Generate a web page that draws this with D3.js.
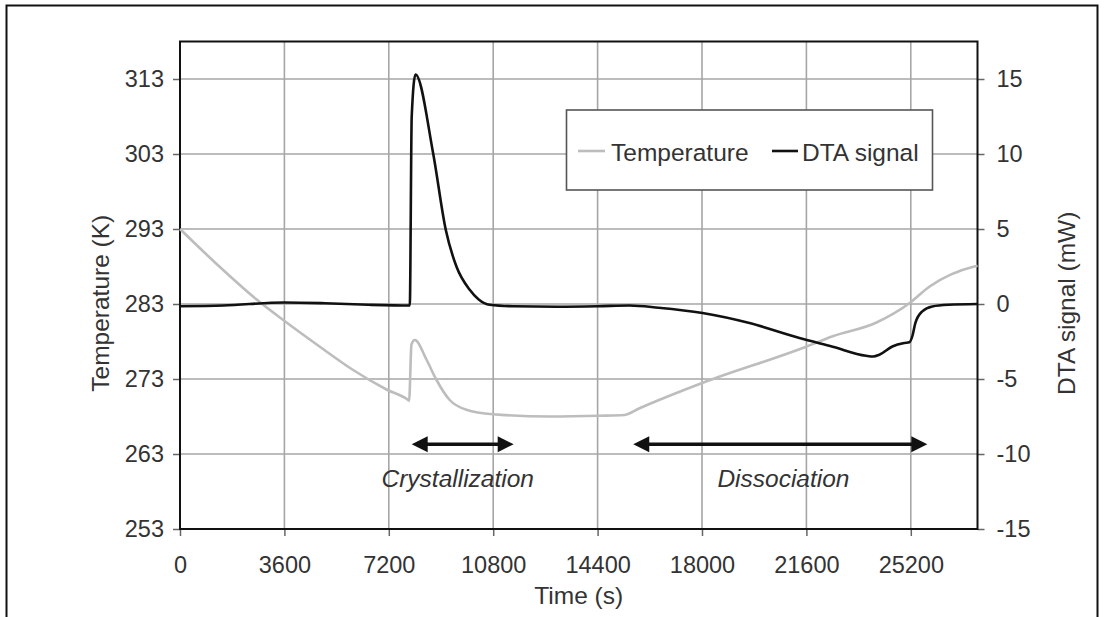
<!DOCTYPE html>
<html>
<head>
<meta charset="utf-8">
<script src="https://cdn.jsdelivr.net/npm/d3@7"></script>
<style>
  html, body { margin: 0; padding: 0; background: #fff; }
  svg { display: block; font-family: "Liberation Sans", Arial, sans-serif; }
</style>
</head>
<body>
<script>
// ---------------- DATA ----------------
const timeTicks = [0, 3600, 7200, 10800, 14400, 18000, 21600, 25200];
const tempTicks = [253, 263, 273, 283, 293, 303, 313];
const dtaTicks = [-15, -10, -5, 0, 5, 10, 15];

const tempTime  = [0, 1300, 2642, 3617, 4823, 5970, 7120, 7866, 7900, 7982, 8096, 8497, 8841, 9300, 9876, 10793, 12747, 14469, 15330, 15847, 18028, 21590, 22506, 24000, 25149, 25838, 27388, 27500];
const tempValue = [293.0, 288.2, 283.6, 280.7, 277.3, 274.2, 271.6, 270.2, 270.1, 277.6, 278.2, 275.6, 272.9, 270.2, 268.9, 268.3, 268.0, 268.1, 268.2, 269.1, 272.5, 277.3, 278.7, 280.5, 283.1, 285.3, 288.0, 288.1];

const dtaTime  = [0, 1500, 3600, 5000, 6500, 7924, 7990, 8120, 8727, 9164, 9532, 9990, 10300, 10680, 11500, 13000, 14400, 15500, 16500, 18018, 19637, 21360, 22506, 23655, 23900, 24115, 24563, 24976, 25150, 25260, 25356, 25597, 25942, 26500, 27500];
const dtaValue = [-0.15, -0.1, 0.1, 0.05, -0.05, -0.1, 12.5, 15.3, 10.07, 4.95, 2.5, 0.95, 0.3, -0.05, -0.15, -0.18, -0.15, -0.1, -0.25, -0.6, -1.27, -2.27, -2.85, -3.45, -3.5, -3.38, -2.83, -2.6, -2.55, -2.1, -1.27, -0.49, -0.16, -0.05, 0];

const seriesNames = ["Temperature", "DTA signal"];
const annotationLabels = ["Crystallization", "Dissociation"];
const arrowStart = [7990, 15630];
const arrowEnd   = [11507, 25770];
const arrowLevel = -9.35;      // DTA units
const labelTime  = [9577, 20808];
const labelLevel = -11.6;      // DTA units

const xTitle = "Time (s)";
const yLeftTitle = "Temperature (K)";
const yRightTitle = "DTA signal (mW)";

// ---------------- LAYOUT ----------------
const W = 1104, H = 617;
const m = { left: 180, top: 41.5, right: 1104 - 977.5, bottom: 617 - 529 };
const pw = W - m.left - m.right, ph = H - m.top - m.bottom;

const x = d3.scaleLinear().domain([0, 27500]).range([m.left, m.left + pw]);
const yT = d3.scaleLinear().domain([253, 318]).range([m.top + ph, m.top]);
const yD = d3.scaleLinear().domain([-15, 17.5]).range([m.top + ph, m.top]);

const svg = d3.select("body").append("svg").attr("width", W).attr("height", H);
svg.append("rect").attr("width", W).attr("height", H).attr("fill", "#fff");

const textColor = "#333";
const fs = 24.5;
const tfs = 23.5;

// outer frame
svg.append("path")
  .attr("d", `M6.5,${H} V5.5 H1097.5 V${H}`)
  .attr("fill", "none").attr("stroke", "#111").attr("stroke-width", 2);

// gridlines
const grid = svg.append("g");
grid.selectAll("line.v").data(timeTicks.slice(1)).join("line")
  .attr("x1", d => x(d)).attr("x2", d => x(d))
  .attr("y1", m.top).attr("y2", m.top + ph)
  .attr("stroke", "#a6a6a6").attr("stroke-width", 1.6);
grid.selectAll("line.h").data(tempTicks.slice(1)).join("line")
  .attr("x1", m.left).attr("x2", m.left + pw)
  .attr("y1", d => yT(d)).attr("y2", d => yT(d))
  .attr("stroke", "#a6a6a6").attr("stroke-width", 1.6);

// axes
const fmt = d => String(d);
const axL = d3.axisLeft(yT).tickValues(tempTicks).tickSize(7).tickPadding(9).tickFormat(fmt);
const axR = d3.axisRight(yD).tickValues(dtaTicks).tickSize(7).tickPadding(12).tickFormat(fmt);
const axB = d3.axisBottom(x).tickValues(timeTicks).tickSize(7).tickPadding(20).tickFormat(fmt);

function styleAxis(g) {
  g.select(".domain").remove();
  g.selectAll(".tick line").attr("stroke", "#666").attr("stroke-width", 1.5);
  g.selectAll(".tick text").attr("fill", textColor).style("font-size", tfs + "px")
    .style("font-family", '"Liberation Sans", Arial, sans-serif');
}
svg.append("g").attr("transform", `translate(${m.left},0)`).call(axL).call(styleAxis);
svg.append("g").attr("transform", `translate(${m.left + pw},0)`).call(axR).call(styleAxis);
svg.append("g").attr("transform", `translate(0,${m.top + ph})`).call(axB).call(styleAxis);

// plot border
svg.append("rect").attr("x", m.left).attr("y", m.top).attr("width", pw).attr("height", ph)
  .attr("fill", "none").attr("stroke", "#111").attr("stroke-width", 2);

// series
const tempData = tempTime.map((t, i) => [t, tempValue[i]]);
const dtaData = dtaTime.map((t, i) => [t, dtaValue[i]]);

svg.append("path").datum(tempData)
  .attr("d", d3.line().x(d => x(d[0])).y(d => yT(d[1])).curve(d3.curveMonotoneX))
  .attr("fill", "none").attr("stroke", "#bdbdbd").attr("stroke-width", 2.6);

svg.append("path").datum(dtaData)
  .attr("d", d3.line().x(d => x(d[0])).y(d => yD(d[1])).curve(d3.curveMonotoneX))
  .attr("fill", "none").attr("stroke", "#111").attr("stroke-width", 2.6);

// annotation arrows
const ann = svg.append("g");
arrowStart.forEach((s, i) => {
  const x0 = x(s), x1 = x(arrowEnd[i]), yy = yD(arrowLevel);
  const hl = 16, hh = 8;
  ann.append("line").attr("x1", x0 + hl - 2).attr("x2", x1 - hl + 2).attr("y1", yy).attr("y2", yy)
    .attr("stroke", "#111").attr("stroke-width", 3.6);
  ann.append("path").attr("d", `M${x0},${yy} L${x0 + hl},${yy - hh} L${x0 + hl},${yy + hh} Z`).attr("fill", "#111");
  ann.append("path").attr("d", `M${x1},${yy} L${x1 - hl},${yy - hh} L${x1 - hl},${yy + hh} Z`).attr("fill", "#111");
  ann.append("text").attr("x", x(labelTime[i])).attr("y", yD(labelLevel))
    .attr("text-anchor", "middle").attr("dominant-baseline", "central")
    .attr("font-style", "italic").attr("font-size", fs).attr("fill", textColor)
    .text(annotationLabels[i]);
});

// axis titles
svg.append("text").attr("x", x(13750)).attr("y", 595).attr("text-anchor", "middle")
  .attr("dominant-baseline", "central").attr("font-size", fs).attr("fill", textColor).text(xTitle);
svg.append("text").attr("transform", `translate(100,${(m.top + m.top + ph) / 2 + 18}) rotate(-90)`)
  .attr("text-anchor", "middle").attr("dominant-baseline", "central")
  .attr("font-size", fs).attr("fill", textColor).text(yLeftTitle);
svg.append("text").attr("transform", `translate(1066,${(m.top + m.top + ph) / 2 + 18}) rotate(-90)`)
  .attr("text-anchor", "middle").attr("dominant-baseline", "central")
  .attr("font-size", fs).attr("fill", textColor).text(yRightTitle);

// legend
const lg = svg.append("g");
lg.append("rect").attr("x", 566.5).attr("y", 110).attr("width", 366).attr("height", 80)
  .attr("fill", "#fff").attr("stroke", "#555").attr("stroke-width", 1.6);
const legendItems = [
  { name: seriesNames[0], color: "#bdbdbd", x0: 578, x1: 605, tx: 611 },
  { name: seriesNames[1], color: "#111", x0: 772, x1: 798, tx: 802 }
];
legendItems.forEach(it => {
  lg.append("line").attr("x1", it.x0).attr("x2", it.x1).attr("y1", 151).attr("y2", 151)
    .attr("stroke", it.color).attr("stroke-width", 2.6);
  lg.append("text").attr("x", it.tx).attr("y", 152).attr("dominant-baseline", "central")
    .attr("font-size", fs).attr("fill", textColor).text(it.name);
});
</script>
</body>
</html>
